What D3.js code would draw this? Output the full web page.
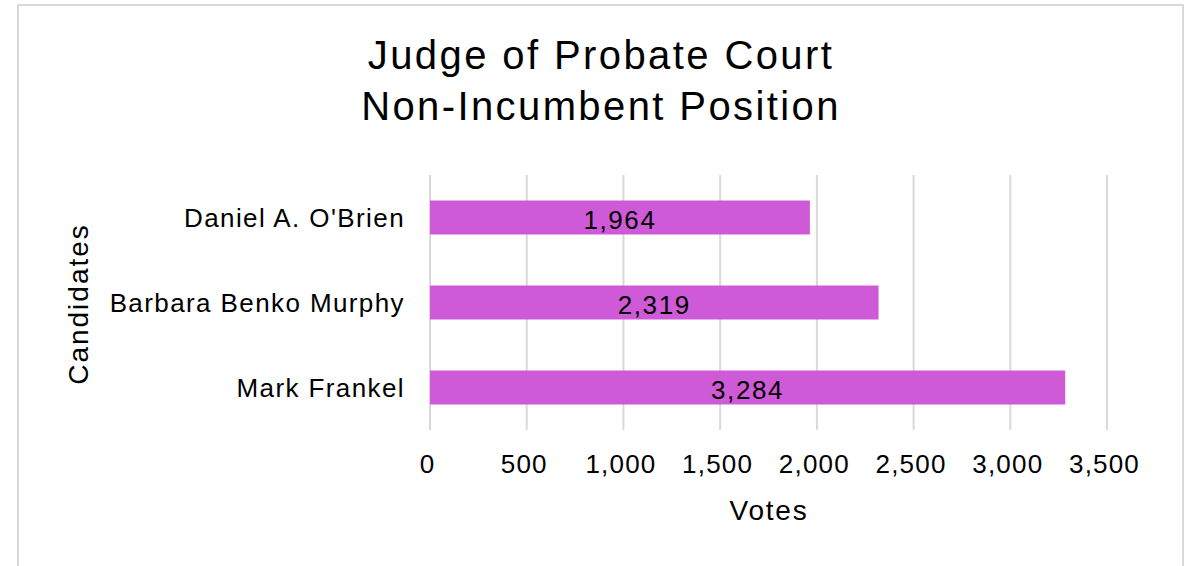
<!DOCTYPE html>
<html>
<head>
<meta charset="utf-8">
<script src="https://cdn.jsdelivr.net/npm/d3@7"></script>
<style>
  body { margin: 0; background: #fff; }
  text { font-family: "Liberation Sans", Arial, sans-serif; fill: #000; }
</style>
</head>
<body>
<div id="chart-area"></div>
<script>
// data
var candidates = ["Daniel A. O'Brien", "Barbara Benko Murphy", "Mark Frankel"];
var votes = [1964, 2319, 3284];
var xTicks = [0, 500, 1000, 1500, 2000, 2500, 3000, 3500];
var titleLines = ["Judge of Probate Court", "Non-Incumbent Position"];

var W = 1195, H = 566;
var margin = { left: 430, right: 88, top: 175, bottom: 136 };
var width = W - margin.left - margin.right,
    height = H - margin.top - margin.bottom;

var svg = d3.select("#chart-area")
    .append("svg")
        .attr("width", W)
        .attr("height", H);

// outer frame
svg.append("rect")
    .attr("x", 18).attr("y", 5)
    .attr("width", 1165).attr("height", 580)
    .attr("fill", "none")
    .attr("stroke", "#d9d9d9")
    .attr("stroke-width", 2);

var g = svg.append("g")
    .attr("transform", "translate(" + margin.left + "," + margin.top + ")");

// scales
var x = d3.scaleLinear()
    .domain([0, 3500])
    .range([0, 677]);
var y = d3.scaleBand()
    .domain(candidates)
    .range([0, height])
    .paddingInner(0.6)
    .paddingOuter(0.3);

// gridlines
g.selectAll(".grid")
    .data(xTicks)
    .enter().append("line")
        .attr("class", "grid")
        .attr("x1", function(d){ return x(d); })
        .attr("x2", function(d){ return x(d); })
        .attr("y1", 0)
        .attr("y2", height)
        .attr("stroke", "#d9d9d9")
        .attr("stroke-width", 2);

// x axis labels
var xAxisCall = d3.axisBottom(x)
    .tickValues(xTicks)
    .tickSize(0)
    .tickPadding(25)
    .tickFormat(d3.format(","));
var xAxis = g.append("g")
    .attr("transform", "translate(0," + height + ")")
    .call(xAxisCall);
xAxis.select(".domain").remove();
xAxis.selectAll("text")
    .attr("font-size", "26px")
    .attr("letter-spacing", "1.2px")
    .attr("dx", "-3")
    .attr("fill", "#000")
    .style("font-family", "'Liberation Sans', Arial, sans-serif");

// y axis labels
var yAxisCall = d3.axisLeft(y).tickSize(0).tickPadding(25);
var yAxis = g.append("g").call(yAxisCall);
yAxis.select(".domain").remove();
yAxis.selectAll("text")
    .attr("font-size", "26px")
    .attr("letter-spacing", "1.4px")
    .attr("dy", "0.38em")
    .attr("fill", "#000")
    .style("font-family", "'Liberation Sans', Arial, sans-serif");

// bars
var data = candidates.map(function(c, i){ return { name: c, v: votes[i] }; });
g.selectAll(".bar")
    .data(data)
    .enter().append("rect")
        .attr("class", "bar")
        .attr("x", 0)
        .attr("y", function(d){ return y(d.name); })
        .attr("width", function(d){ return x(d.v); })
        .attr("height", y.bandwidth())
        .attr("fill", "#cf5ad8");

// value labels
g.selectAll(".val")
    .data(data)
    .enter().append("text")
        .attr("class", "val")
        .attr("x", function(d){ return x(d.v) / 2; })
        .attr("y", function(d){ return y(d.name) + y.bandwidth() / 2 + 11; })
        .attr("text-anchor", "middle")
        .attr("font-size", "26px")
        .attr("letter-spacing", "1.6px")
        .text(function(d){ return d3.format(",")(d.v); });

// title
svg.selectAll(".title")
    .data(titleLines)
    .enter().append("text")
        .attr("class", "title")
        .attr("x", 601)
        .attr("y", function(d, i){ return 69 + i * 51; })
        .attr("text-anchor", "middle")
        .attr("font-size", "40px")
        .attr("letter-spacing", "2.4px")
        .text(function(d){ return d; });

// axis titles
svg.append("text")
    .attr("x", 769)
    .attr("y", 520)
    .attr("text-anchor", "middle")
    .attr("font-size", "28px")
    .attr("letter-spacing", "1.8px")
    .text("Votes");
svg.append("text")
    .attr("transform", "translate(88,304) rotate(-90)")
    .attr("text-anchor", "middle")
    .attr("font-size", "28px")
    .attr("letter-spacing", "2px")
    .text("Candidates");
</script>
</body>
</html>
